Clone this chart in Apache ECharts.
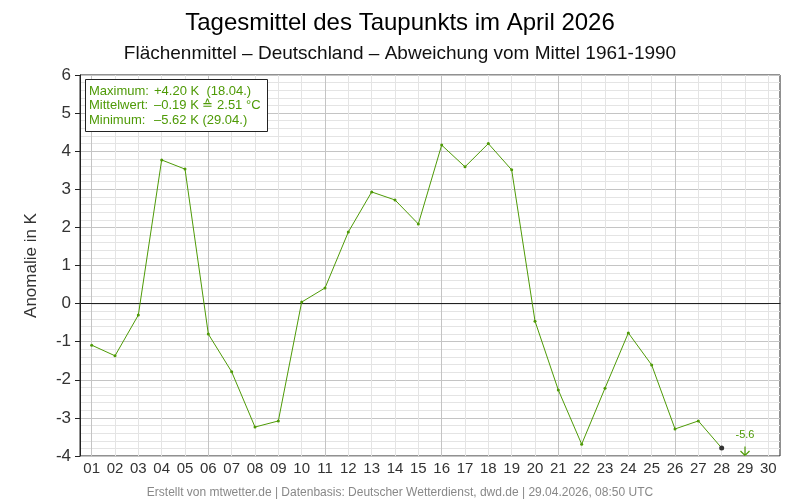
<!DOCTYPE html>
<html>
<head>
<meta charset="utf-8">
<script src="https://cdn.jsdelivr.net/npm/echarts@6/dist/echarts.min.js"></script>
<style>
  html, body { margin: 0; padding: 0; background: #fff; }
  #chart { width: 800px; height: 500px; }
</style>
</head>
<body>
<div id="chart"></div>
<script>
// Tage im April
var days = ['01','02','03','04','05','06','07','08','09','10','11','12','13','14','15',
            '16','17','18','19','20','21','22','23','24','25','26','27','28','29','30'];
// Abweichung vom Mittel 1961-1990 in K (Tag 30 noch ohne Wert)
var anomaly = [-1.09, -1.37, -0.30, 3.77, 3.53, -0.80, -1.79, -3.24, -3.08, 0.04,
               0.41, 1.88, 2.93, 2.72, 2.09, 4.16, 3.59, 4.20, 3.51, -0.46,
               -2.27, -3.69, -2.22, -0.77, -1.61, -3.29, -3.08, -3.79, -5.62, null];
var yMin = -4, yMax = 6;
var lastIndex = 27; // letzter regulär gezeichneter Punkt (28.04.)

var infoLines = [
    ['Maximum:', '+4.20 K  (18.04.)'],
    ['Mittelwert:', '\u20130.19 K \u2259 2.51 \u00b0C'],
    ['Minimum:', '\u20135.62 K (29.04.)']
];

var green = '#4e9a06';
var font = 'Liberation Sans, Arial, sans-serif';

// Werte ausserhalb der Skala nicht in der Linie
var lineData = anomaly.map(function (v, i) {
    if (v === null || v < yMin || v > yMax) return null;
    if (i === lastIndex) {
        return { value: v, symbolSize: 5, itemStyle: { color: '#333' } };
    }
    return v;
});
// Pfeil fuer Werte unterhalb der Skala
var outData = anomaly.map(function (v) {
    return (v !== null && v < yMin) ? { value: yMin, raw: v } : null;
});
var zeroData = days.map(function () { return 0; });

var myChart = echarts.init(document.getElementById('chart'));
var option = {
    animation: false,
    textStyle: { fontFamily: font },
    title: [
        {
            text: 'Tagesmittel des Taupunkts im April 2026',
            left: 'center', top: 6,
            textStyle: { fontSize: 24, fontWeight: 'normal', color: '#000', fontFamily: font }
        },
        {
            text: 'Fl\u00e4chenmittel \u2013 Deutschland \u2013 Abweichung vom Mittel 1961-1990',
            left: 'center', top: 39,
            textStyle: { fontSize: 19, fontWeight: 'normal', color: '#111', fontFamily: font }
        },
        {
            text: infoLines.map(function (l) { return '{k|' + l[0] + '}' + l[1]; }).join('\n'),
            left: 85, top: 79,
            padding: [5, 7, 4, 4],
            backgroundColor: '#fff',
            borderColor: '#222',
            borderWidth: 1,
            textStyle: {
                fontSize: 13, fontWeight: 'normal', color: green, lineHeight: 14.5, fontFamily: font,
                rich: { k: { width: 65, fontSize: 13, color: green, fontFamily: font } }
            }
        },
        {
            text: 'Erstellt von mtwetter.de | Datenbasis: Deutscher Wetterdienst, dwd.de | 29.04.2026, 08:50 UTC',
            left: 'center', top: 482,
            textStyle: { fontSize: 12, fontWeight: 'normal', color: '#888', fontFamily: font }
        }
    ],
    grid: {
        left: 80, right: 20, top: 75, bottom: 44,
        show: true, borderColor: '#222', borderWidth: 1, backgroundColor: 'transparent'
    },
    xAxis: [
        {
            type: 'category',
            data: days,
            boundaryGap: true,
            axisLine: { show: true, lineStyle: { color: '#222', width: 1 } },
            axisTick: { show: false },
            axisLabel: { fontSize: 15, color: '#333', margin: 5, interval: 0, fontFamily: font },
            splitLine: { show: false }
        },
        {
            // nur fuer senkrechte Gitterlinien in Tagesmitte
            type: 'value',
            min: 0, max: 60, interval: 1,
            position: 'bottom',
            axisLine: { show: false },
            axisTick: { show: false },
            axisLabel: { show: false },
            splitLine: {
                show: true,
                lineStyle: {
                    width: 1,
                    color: ['rgba(0,0,0,0)', '#c4c4c4', 'rgba(0,0,0,0)', '#e4e4e4', 'rgba(0,0,0,0)',
                            '#e4e4e4', 'rgba(0,0,0,0)', '#e4e4e4', 'rgba(0,0,0,0)', '#e4e4e4']
                }
            }
        }
    ],
    yAxis: {
        type: 'value',
        min: yMin, max: yMax, interval: 1,
        name: 'Anomalie in K',
        nameLocation: 'middle',
        nameGap: 40,
        nameTextStyle: { fontSize: 17, color: '#333', fontFamily: font },
        axisLine: { show: true, lineStyle: { color: '#222', width: 1 } },
        axisTick: { show: true, length: 5, lineStyle: { color: '#222' } },
        axisLabel: { fontSize: 17, color: '#333', margin: 9, fontFamily: font },
        splitLine: { show: true, lineStyle: { color: '#c4c4c4', width: 1 } },
        minorTick: { show: false, splitNumber: 5 },
        minorSplitLine: { show: true, lineStyle: { color: '#e4e4e4', width: 1 } }
    },
    series: [
        {
            name: 'null',
            type: 'line',
            data: zeroData,
            showSymbol: false,
            silent: true,
            lineStyle: { color: '#222', width: 1 },
            z: 2
        },
        {
            name: 'Anomalie',
            type: 'line',
            data: lineData,
            connectNulls: false,
            symbol: 'circle',
            symbolSize: 3,
            itemStyle: { color: green },
            lineStyle: { color: green, width: 1 },
            z: 3
        },
        {
            name: 'ausserhalb',
            type: 'scatter',
            data: outData,
            symbol: 'path://M5,0 L5,10 M0,5 L5,10 L10,5',
            symbolSize: [9, 9],
            symbolOffset: [0, -5],
            itemStyle: { color: 'none', borderColor: green, borderWidth: 1.2, opacity: 1 },
            label: {
                show: true,
                position: 'top',
                distance: 4,
                color: green,
                fontSize: 11,
                fontFamily: font,
                formatter: function (p) { return p.data.raw.toFixed(1); }
            },
            z: 4
        }
    ]
};
myChart.setOption(option);
</script>
</body>
</html>
